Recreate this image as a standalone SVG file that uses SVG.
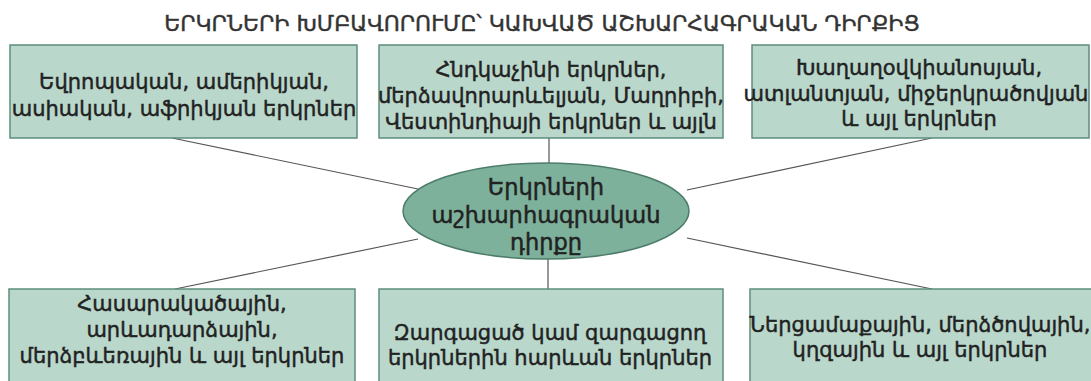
<svg xmlns="http://www.w3.org/2000/svg" width="1091" height="381" viewBox="0 0 1091 381">
<style>
.box{fill:#b9d7cb;stroke:#5e8e7c;stroke-width:1.5}
.ell{fill:#7db19c;stroke:#4d7d6a;stroke-width:1.5}
.t{font-family:"DejaVu Sans",sans-serif;font-size:21px;fill:#222;stroke:#222;stroke-width:0.45;text-anchor:middle}
.et{font-family:"DejaVu Sans",sans-serif;font-size:22.5px;fill:#222;stroke:#222;stroke-width:0.5;text-anchor:middle}
.title{font-family:"DejaVu Sans",sans-serif;font-size:22px;fill:#333;stroke:#333;stroke-width:0.4;text-anchor:middle}
.c{stroke:#555;stroke-width:1.2;fill:none}
</style>
<rect width="1091" height="381" fill="#ffffff"/>
<text class="title" x="542" y="31">ԵՐԿՐՆԵՐԻ ԽՄԲԱՎՈՐՈՒՄԸ՝ ԿԱԽՎԱԾ ԱՇԽԱՐՀԱԳՐԱԿԱՆ ԴԻՐՔԻՑ</text>
<g id="connectors">
<line class="c" x1="172" y1="138" x2="418" y2="189"/>
<line class="c" x1="549" y1="138" x2="549" y2="163"/>
<line class="c" x1="932" y1="138" x2="687" y2="190"/>
<line class="c" x1="175" y1="289" x2="418" y2="239"/>
<line class="c" x1="548" y1="258" x2="548" y2="289"/>
<line class="c" x1="932" y1="289" x2="687" y2="238"/>
</g>
<g id="box1">
<rect class="box" x="10" y="45" width="347" height="93"/>
<text class="t" x="184" y="89">Եվրոպական, ամերիկյան,</text>
<text class="t" x="184" y="116">ասիական, աֆրիկյան երկրներ</text>
</g>
<g id="box2">
<rect class="box" x="379" y="45" width="344" height="93"/>
<text class="t" x="551" y="77">Հնդկաչինի երկրներ,</text>
<text class="t" x="551" y="103">մերձավորարևելյան, Մաղրիբի,</text>
<text class="t" x="551" y="129">Վեստինդիայի երկրներ և այլն</text>
</g>
<g id="box3">
<rect class="box" x="752" y="45" width="337" height="93"/>
<text class="t" x="919" y="75">Խաղաղօվկիանոսյան,</text>
<text class="t" x="916" y="101">ատլանտյան, միջերկրածովյան</text>
<text class="t" x="919" y="126">և այլ երկրներ</text>
</g>
<g id="center">
<ellipse class="ell" cx="546" cy="211" rx="143" ry="48"/>
<text class="et" x="546" y="195">Երկրների</text>
<text class="et" x="546" y="223">աշխարհագրական</text>
<text class="et" x="546" y="250">դիրքը</text>
</g>
<g id="box4">
<rect class="box" x="9" y="289" width="346" height="100"/>
<text class="t" x="182" y="311">Հասարակածային,</text>
<text class="t" x="182" y="337">արևադարձային,</text>
<text class="t" x="182" y="363">մերձբևեռային և այլ երկրներ</text>
</g>
<g id="box5">
<rect class="box" x="379" y="289" width="344" height="100"/>
<text class="t" x="550" y="340">Զարգացած կամ զարգացող</text>
<text class="t" x="550" y="365">երկրներին հարևան երկրներ</text>
</g>
<g id="box6">
<rect class="box" x="750" y="289" width="345" height="100"/>
<text class="t" x="920" y="332">Ներցամաքային, մերձծովային,</text>
<text class="t" x="920" y="357">կղզային և այլ երկրներ</text>
</g>
</svg>
